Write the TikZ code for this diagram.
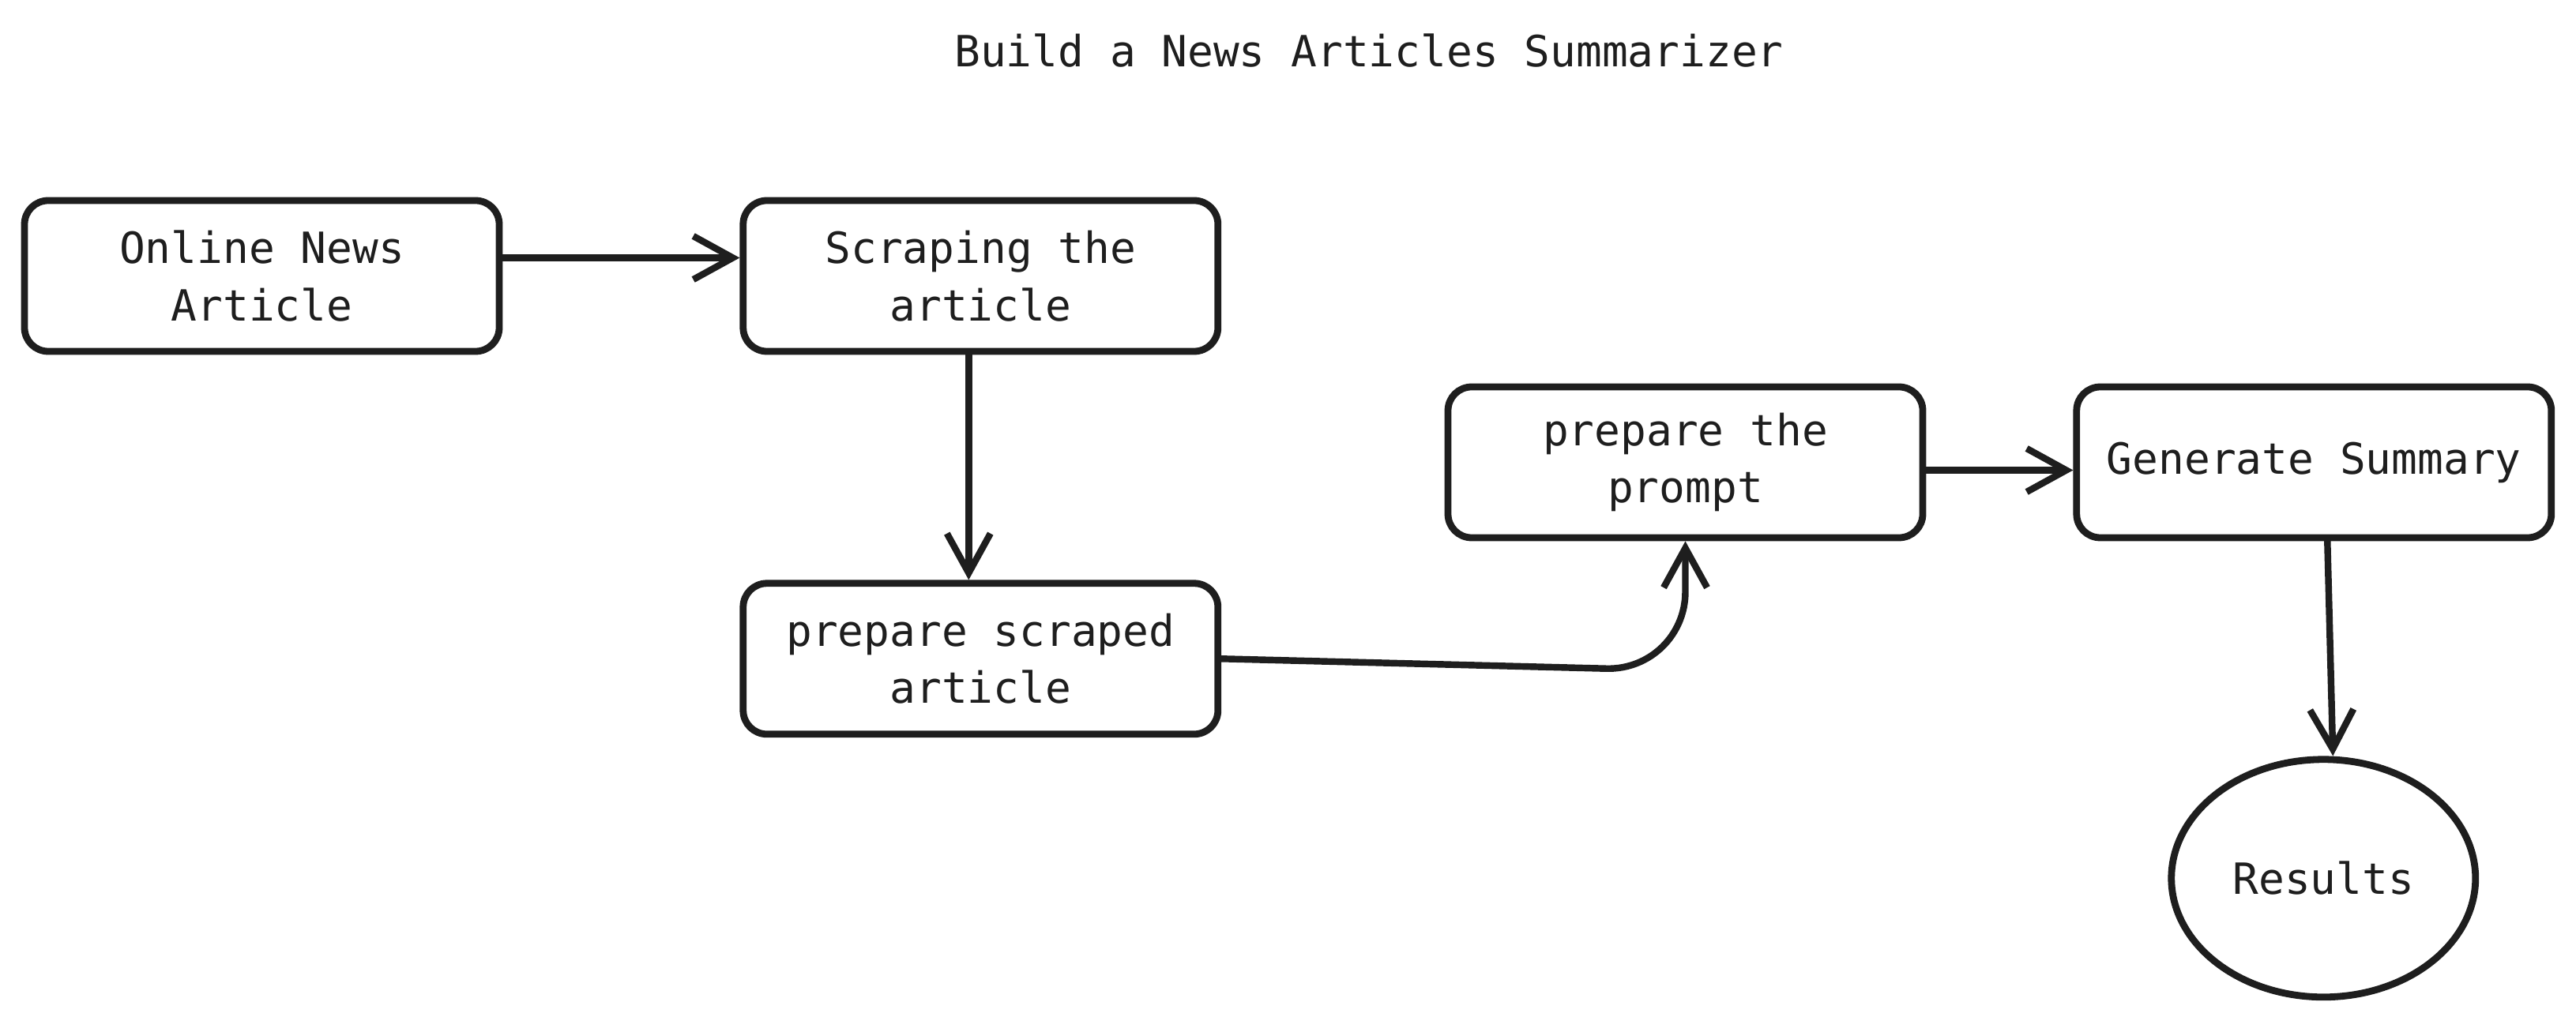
\documentclass[tikz,border=0pt]{standalone}
\usepackage{fontspec}
\setmonofont{DejaVu Sans Mono}
\usepackage{xcolor}
\usetikzlibrary{arrows.meta,shapes.geometric,positioning}
\definecolor{ink}{HTML}{1E1E1E}

\begin{document}
\begin{tikzpicture}[
  node distance=3cm and 3cm,
  every node/.style={text=ink, font=\ttfamily\fontsize{15.5}{20.7}\selectfont},
  box/.style={draw=ink, line width=2.5pt, rounded corners=3mm, align=center, minimum width=6.01cm, minimum height=1.91cm, inner sep=0pt},
  endnode/.style={draw=ink, ellipse, line width=2.5pt, minimum width=3.85cm, minimum height=3.01cm, inner sep=0pt},
  arr/.style={draw=ink, line width=2.4pt, line cap=round, -{Straight Barb[length=5mm,width=5.5mm]}}
]
\useasboundingbox (0,0) rectangle (32.61,-12.88);
\node (title) at (17.33,-0.64) {Build a News Articles Summarizer};
\node[box] (online) at (3.315,-3.495) {Online News\\Article};
\node[box, right=3cm of online] (scrape) {Scraping the\\article};
\node[box, below=2.85cm of scrape] (prep) {prepare scraped\\article};
\node[box] (prompt) at (21.335,-5.855) {prepare the\\prompt};
\node[box, right=1.86cm of prompt] (summary) {Generate Summary};
\node[endnode, below=2.72cm of summary, xshift=1.2mm] (results) {Results};
% connectors
\draw[arr] ([yshift=2.3mm]online.east) -- ([yshift=2.3mm]scrape.west);
\draw[arr] ([xshift=-1.5mm]scrape.south) -- ([xshift=-1.5mm]prep.north);
\draw[arr, rounded corners=1cm] (prep.east) -- ([yshift=-1.5mm]prep.east -| prompt.south) -- (prompt.south);
\draw[arr] ([yshift=-1mm]prompt.east) -- ([yshift=-1mm]summary.west);
\draw[arr] ([xshift=1.7mm]summary.south) -- ([xshift=1.2mm]results.north);
\end{tikzpicture}
\end{document}
